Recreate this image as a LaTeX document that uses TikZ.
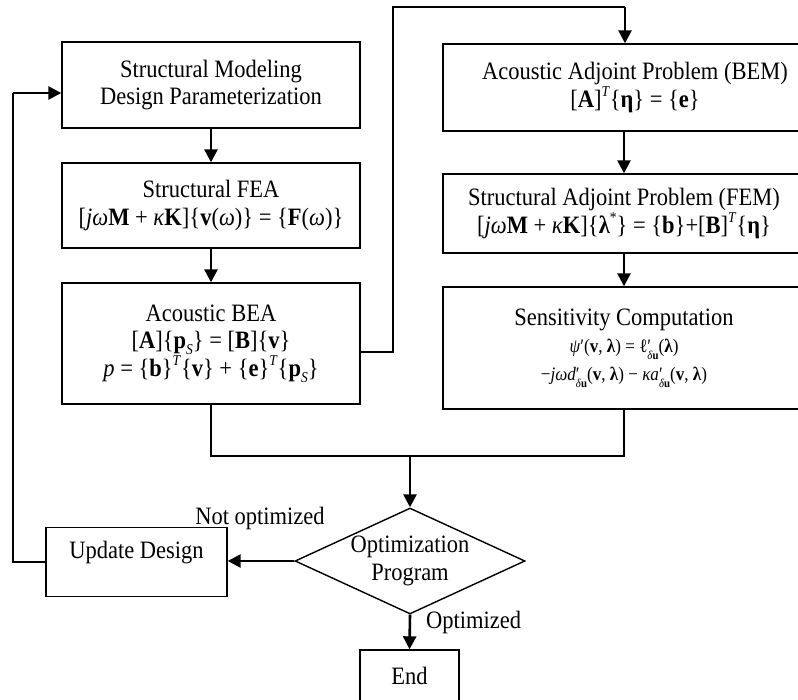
\documentclass[tikz,border=0pt]{standalone}
\usepackage{fontspec}
\setmainfont[FakeStretch=0.9]{Liberation Serif}
\usetikzlibrary{arrows.meta,shapes.geometric}
\newcommand{\mb}[1]{\textbf{#1}}
\newcommand{\mi}[1]{\textit{#1}}
\newcommand{\sps}[1]{\raisebox{0.42em}{\fontsize{15}{15}\selectfont #1}}
\newcommand{\sbs}[1]{\raisebox{-0.25em}{\fontsize{15}{15}\selectfont #1}}
\newcommand{\psub}[1]{\rlap{′}\raisebox{-0.35em}{\fontsize{12}{12}\selectfont #1}}
\begin{document}
\begin{tikzpicture}[x=1pt,y=-1pt,
  every node/.style={font=\fontsize{25}{27.5}\selectfont},
  box/.style={draw, line width=1.4pt, align=center, inner sep=0pt},
  thinln/.style={line width=1.2pt},
  arr/.style={line width=2.6pt, -{Triangle[length=13pt,width=13pt]}}]
\useasboundingbox (0,0) rectangle (798,699);
\clip (0,0) rectangle (798,699);

\node[box, minimum width=298pt, minimum height=86pt] (L1) at (211,85)
  {Structural Modeling\\Design Parameterization};
\node[box, minimum width=298pt, minimum height=85pt] (L2) at (211,205.5)
  {Structural FEA\\{}[\mi{jω}\mb{M} + \mi{κ}\mb{K}]\{\mb{v}(\mi{ω})\} = \{\mb{F}(\mi{ω})\}};
\node[box, minimum width=298pt, minimum height=121pt] (L3) at (211,343.5)
  {Acoustic BEA\\{}[\mb{A}]\{\mb{p}\sbs{\mi{S}}\} = [\mb{B}]\{\mb{v}\}\\
   \mi{p} = \{\mb{b}\}\sps{\mi{T}}\{\mb{v}\} + \{\mb{e}\}\sps{\mi{T}}\{\mb{p}\sbs{\mi{S}}\}};

\node[box, minimum width=384pt, minimum height=87pt] (R1) at (635,87.5)
  {Acoustic Adjoint Problem (BEM)\\{}[\mb{A}]\sps{\mi{T}}\{\mb{η}\} = \{\mb{e}\}};
\node[box, minimum width=362pt, minimum height=79pt] (R2) at (624,213.5)
  {Structural Adjoint Problem (FEM)\\{}[\mi{jω}\mb{M} + \mi{κ}\mb{K}]\{\mb{λ}\sps{*}\} = \{\mb{b}\}+[\mb{B}]\sps{\mi{T}}\{\mb{η}\}};
\node[box, minimum width=362pt, minimum height=122pt] (R3) at (624,348)
  {Sensitivity Computation\\
   {\fontsize{19}{30}\selectfont \mi{ψ}′(\mb{v}, \mb{λ}) = ℓ\psub{\mi{δ}\mb{u}}(\mb{λ})}\\
   {\fontsize{19}{30}\selectfont −\mi{jωd}\psub{\mi{δ}\mb{u}}(\mb{v}, \mb{λ}) − \mi{κa}\psub{\mi{δ}\mb{u}}(\mb{v}, \mb{λ})}};

\node[draw, diamond, aspect=2.17, minimum width=230pt, minimum height=106pt,
  inner sep=0pt, line width=1.4pt, align=center] (D) at (410,561) {Optimization\\Program};
\node[box, minimum width=181pt, minimum height=69pt] (UD) at (136.5,562) {};
\node (UDt) at (136.5,553) {Update Design};
\node[box, minimum width=99pt, minimum height=52pt] (End) at (409.5,676) {End};

\node (notopt) at (260,518) {Not optimized};
\node[anchor=west, inner sep=0pt] (opt) at (426,622) {Optimized};

\draw[arr] (L1) -- (L2);
\draw[arr] (L2) -- (L3);
\draw[arr] (R2.north |- R1.south) -- (R2.north);
\draw[arr] (R2) -- (R3);

\coordinate (c1) at (393,352);
\coordinate (c2) at (393,7);
\coordinate (c3) at (625,7);
\draw[thinln] (L3.east |- c1) -- (c1) -- (c2) -- (c3);
\draw[arr] (c3) -- (R1.north -| c3);

\coordinate (j) at (410,456);
\draw[thinln] (L3.south) -- (L3.south |- j) -- (R3.south |- j) -- (R3.south);
\draw[arr] (j) -- (D.north);

\draw[arr] (D.west) -- (D.west -| UD.east);
\draw[arr] (D.south) -- (End.north);

\coordinate (lp) at (13,93);
\draw[thinln] (UD.west) -- (UD.west -| lp) -- (lp);
\draw[arr] (lp) -- (lp -| L1.west);
\end{tikzpicture}
\end{document}
